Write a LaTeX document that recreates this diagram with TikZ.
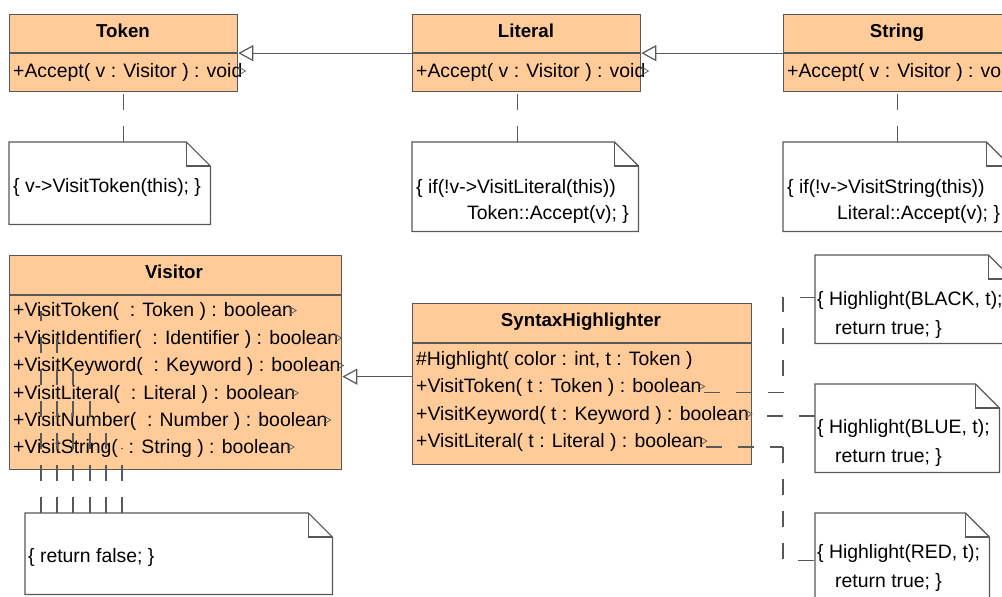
\documentclass[tikz,border=0pt]{standalone}
\usepackage{fontspec}
\setmainfont{Liberation Sans}
\usetikzlibrary{arrows.meta}

\definecolor{classfill}{RGB}{255,204,153}
\definecolor{edge}{RGB}{88,88,88}

\tikzset{
  classbox/.style={draw=edge, fill=classfill, line width=1.3pt, inner sep=0pt},
  classrule/.style={draw=edge, line width=1.2pt},
  notebox/.style={fill=white, inner sep=0pt},
  noterule/.style={draw=edge, line width=1.2pt, line join=miter},
  memb/.style={inner sep=0pt, anchor=base west, font=\fontsize{19.4}{23}\selectfont},
  clstitle/.style={inner sep=0pt, anchor=base, font=\bfseries\fontsize{18.7}{23}\selectfont},
  gen/.style={draw=edge, line width=1.2pt, -{Triangle[open, length=15pt, width=16pt, line width=1.2pt]}},
  dep/.style={draw=edge, line width=1.2pt, dash pattern=on 16pt off 16pt},
  opmark/.pic={\draw[draw=edge, line width=0.7pt, line join=miter] (-2,-3.5) -- (4,0) -- (-2,3.5) -- cycle;},
}

% class box: name, x, y, width, height, header height
\newcommand{\umlclass}[6]{%
  \node[classbox, minimum width=#4pt, minimum height=#5pt, anchor=north west] (#1) at (#2,#3) {};
  \draw[classrule] ([yshift=-#6pt]#1.north west) -- ([yshift=-#6pt]#1.north east);
}
% note with folded corner: name, x, y, width, height
\newcommand{\umlnote}[5]{%
  \node[notebox, minimum width=#4pt, minimum height=#5pt, anchor=north west] (#1) at (#2,#3) {};
  \draw[noterule] (#1.north west) -- ([xshift=-24pt]#1.north east) -- ([yshift=-24pt]#1.north east)
    -- (#1.south east) -- (#1.south west) -- cycle;
  \draw[noterule] ([xshift=-24pt]#1.north east) |- ([yshift=-24pt]#1.north east);
}

\begin{document}
\begin{tikzpicture}[x=1pt, y=-1pt]
\useasboundingbox (0,0) rectangle (1002,597);
\clip (0,0) rectangle (1002,597);
\fill[white] (0,0) rectangle (1002,597);

% classes
\umlclass{token}{9}{14}{228}{77}{39}
\umlclass{literal}{412}{14}{228}{77}{39}
\umlclass{string}{783}{14}{228}{77}{39}
\umlclass{visitor}{9}{255}{332}{214}{40}
\umlclass{highlighter}{412}{303}{339}{161}{40}

% notes
\umlnote{tokennote}{9}{142}{201}{82}
\umlnote{literalnote}{412}{142}{226}{89}
\umlnote{stringnote}{783}{142}{227}{89}
\umlnote{visitornote}{25}{513}{307}{81}
\umlnote{blacknote}{815}{255}{197}{88}
\umlnote{bluenote}{815}{384}{184}{88}
\umlnote{rednote}{815}{513}{174}{94}

% class titles and members
\node[clstitle] (token-t) at (123,37) {Token};
\node[memb] (token-m) at (13,77) {+Accept( v : Visitor ) : void};
\node[clstitle] (literal-t) at (526,37) {Literal};
\node[memb] (literal-m) at (416,77) {+Accept( v : Visitor ) : void};
\node[clstitle] (string-t) at (897,37) {String};
\node[memb] (string-m) at (787,77) {+Accept( v : Visitor ) : void};

\node[clstitle] (visitor-t) at (174,278) {Visitor};
\node[memb] (vm-1) at (13,316.5) {+VisitToken(\ \ : Token ) : boolean};
\node[memb] (vm-2) at (13,344) {+VisitIdentifier(\ \ : Identifier ) : boolean};
\node[memb] (vm-3) at (13,371.5) {+VisitKeyword(\ \ : Keyword ) : boolean};
\node[memb] (vm-4) at (13,399) {+VisitLiteral(\ \ : Literal ) : boolean};
\node[memb] (vm-5) at (13,426) {+VisitNumber(\ \ : Number ) : boolean};
\node[memb] (vm-6) at (13,453) {+VisitString(\ \ : String ) : boolean};

\node[clstitle] (sh-t) at (581,326.5) {SyntaxHighlighter};
\node[memb] (shm-1) at (416,365) {\#Highlight( color : int, t : Token )};
\node[memb] (shm-2) at (416,392.5) {+VisitToken( t : Token ) : boolean};
\node[memb] (shm-3) at (416,420) {+VisitKeyword( t : Keyword ) : boolean};
\node[memb] (shm-4) at (416,447) {+VisitLiteral( t : Literal ) : boolean};

% note texts
\node[memb] (tn-1) at (13,192) {\{ v->VisitToken(this); \}};
\node[memb] (ln-1) at (416,193) {\{ if(!v->VisitLiteral(this))};
\node[memb] (ln-2) at (467,219.5) {Token::Accept(v); \}};
\node[memb] (sn-1) at (787,193) {\{ if(!v->VisitString(this))};
\node[memb] (sn-2) at (837,219.5) {Literal::Accept(v); \}};
\node[memb] (vn-1) at (28,562) {\{ return false; \}};
\node[memb] (bk-1) at (817,305) {\{ Highlight(BLACK, t);};
\node[memb] (bk-2) at (835,334) {return true; \}};
\node[memb] (bl-1) at (817,433) {\{ Highlight(BLUE, t);};
\node[memb] (bl-2) at (835,462) {return true; \}};
\node[memb] (rd-1) at (817,558) {\{ Highlight(RED, t);};
\node[memb] (rd-2) at (835,587) {return true; \}};

% markers behind operations that carry a note
\foreach \m in {token-m, literal-m, string-m, vm-1, vm-2, vm-3, vm-4, vm-5, vm-6, shm-2, shm-3, shm-4}
  \pic at ([xshift=-1pt, yshift=6pt]\m.base east) {opmark};

% generalizations
\draw[gen] (literal.west) -- (token.east);
\draw[gen] (string.west) -- (literal.east);
\coordinate (gen-start) at ([yshift=7.5pt]highlighter.west);
\draw[gen] (gen-start) -- (gen-start -| visitor.east);

% note attachments of the Accept operations (dashes counted from the note)
\draw[dep] (token.south |- tokennote.north) -- (token.south);
\coordinate (lit-anchor) at ([xshift=-9pt]literal.south);
\draw[dep] (lit-anchor |- literalnote.north) -- (lit-anchor);
\draw[dep] (string.south |- stringnote.north) -- (string.south);

% note attachments of the Visitor operations
\foreach \dx/\r in {16/1, 32/2, 48/3, 65/4, 81/5, 97/6} {
  \coordinate (vdep-\r) at ([xshift=\dx pt]visitornote.north west);
  \draw[dep] (vdep-\r) -- (vdep-\r |- vm-\r.center);
}

% note attachments of the SyntaxHighlighter operations
\coordinate (bendx) at (783,0);
\coordinate (c-tok) at ([xshift=2pt]shm-2.base east);
\coordinate (c-kw) at ([xshift=2pt, yshift=4pt]shm-3.base east);
\coordinate (c-lit) at ([xshift=2pt]shm-4.base east);
\draw[dep] (c-tok) -- (c-tok -| bendx) |- ([yshift=2pt]blacknote.west);
\draw[dep] (c-kw -| bluenote.west) -- (c-kw);
\draw[dep] (c-lit) -- (c-lit -| bendx) (c-lit -| bendx) |- (rednote.west);
\end{tikzpicture}
\end{document}
